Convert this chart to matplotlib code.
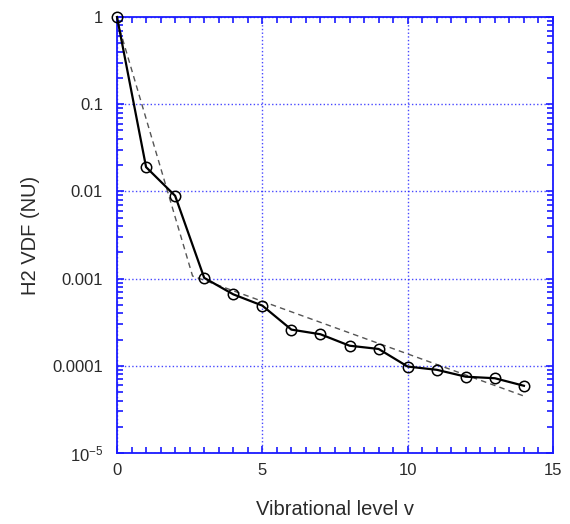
import numpy as np
import matplotlib
matplotlib.use('Agg')
import matplotlib.pyplot as plt
from matplotlib.ticker import FixedLocator, FixedFormatter, MultipleLocator, LogLocator, NullFormatter

plt.rcParams['font.family'] = ['Liberation Sans', 'DejaVu Sans']
plt.rcParams['mathtext.fontset'] = 'custom'
plt.rcParams['mathtext.rm'] = 'Liberation Sans'
plt.rcParams['mathtext.it'] = 'Liberation Sans'

# measured H2 vibrational distribution function
v_level = [0, 1, 2, 3, 4, 5, 6, 7, 8, 9, 10, 11, 12, 13, 14]
vdf = [1.0, 0.019, 0.0089, 0.00102, 0.00066, 0.00049, 0.00026, 0.00023,
       0.00017, 0.000156, 0.000098, 0.00009, 0.000075, 0.000072, 0.000059]

# two-temperature fit (dashed)
fit_v = [0, 2.6, 14]
fit_vdf = [0.92, 0.00107, 0.000045]

yticks = [1e-5, 1e-4, 1e-3, 1e-2, 1e-1, 1]
ytick_labels = ['$10^{-5}$', '0.0001', '0.001', '0.01', '0.1', '1']
xticks = [0, 5, 10, 15]

blue = '#1a1aff'
txt = '#2a2a2a'

fig = plt.figure(figsize=(5.7, 5.24), dpi=100)
ax = fig.add_axes([117 / 570, 71 / 524, 436 / 570, 436 / 524])

ax.plot(fit_v, fit_vdf, '--', color='#555555', lw=1.0, dashes=(4, 3))
ax.plot(v_level, vdf, '-', color='black', lw=1.6, marker='o', ms=7.5,
        mfc='none', mec='black', mew=1.1, clip_on=False, zorder=5)

ax.set_yscale('log')
ax.set_xlim(0, 15)
ax.set_ylim(1e-5, 1)

ax.yaxis.set_major_locator(FixedLocator(yticks))
ax.yaxis.set_major_formatter(FixedFormatter(ytick_labels))
ax.yaxis.set_minor_locator(LogLocator(base=10, subs=np.arange(2, 10)))
ax.yaxis.set_minor_formatter(NullFormatter())
ax.xaxis.set_major_locator(FixedLocator(xticks))
ax.xaxis.set_minor_locator(MultipleLocator(0.5))

for s in ax.spines.values():
    s.set_color(blue)
    s.set_linewidth(1.3)

ax.tick_params(which='both', direction='in', top=True, right=True, color=blue, width=1.2,
               labelcolor=txt)
ax.tick_params(which='major', length=5)
ax.tick_params(which='minor', length=4)
ax.tick_params(axis='y', labelsize=12, pad=10)
ax.tick_params(axis='x', labelsize=12, pad=7)

ax.grid(True, which='major', color=blue, linestyle=':', lw=1.0, alpha=0.8)

ax.set_xlabel('Vibrational level v', fontsize=14.5, labelpad=16, color=txt)
ax.set_ylabel('H2 VDF (NU)', fontsize=14.5, labelpad=9, color=txt)

plt.savefig('out.png', dpi=100)
plt.close(fig)
